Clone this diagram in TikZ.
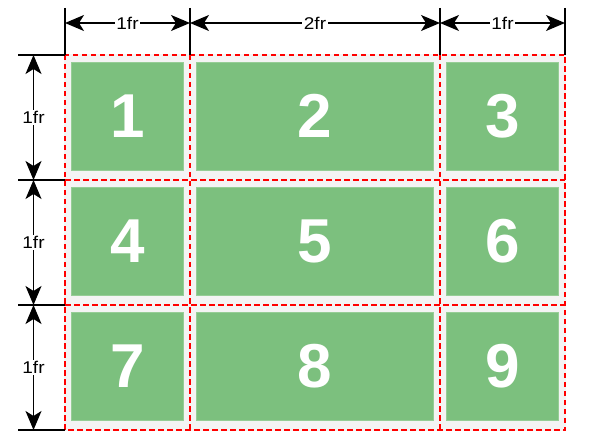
\documentclass[tikz,border=0pt]{standalone}
\usepackage{fontspec}
\setmainfont{Liberation Sans}
\newfontfamily\lblfont[FakeStretch=1.12]{Liberation Sans}
\usetikzlibrary{arrows.meta}
\definecolor{cellgreen}{RGB}{124,192,126}
\definecolor{celledge}{RGB}{150,205,150}
\definecolor{bggray}{RGB}{244,244,244}
\begin{document}
\begin{tikzpicture}[x=1pt,y=-1pt,
  cellbox/.style={rectangle, fill=cellgreen, draw=celledge, line width=0.6pt, inner sep=0pt,
    minimum height=108pt, text=white, font=\fontsize{62}{62}\selectfont\bfseries},
  gridline/.style={red, dash pattern=on 5.5pt off 3.5pt, line width=1.3pt},
  tick/.style={black, line width=1.3pt},
  dimarrow/.style={black, line width=1.3pt, {Stealth[length=19pt,width=16pt,inset=5pt]}-{Stealth[length=19pt,width=16pt,inset=5pt]}},
  lbl/.style={fill=white, inner sep=1.5pt, font=\lblfont\fontsize{17}{17}\selectfont}]
\useasboundingbox (0,0) rectangle (596,443);
\fill[bggray] (64,54) rectangle (566,431);
% cells
\node[cellbox, minimum width=112pt] (b1) at (127.5,116) {1};
\node[cellbox, minimum width=237pt] (b2) at (315,116) {2};
\node[cellbox, minimum width=112pt] (b3) at (502.5,116) {3};
\node[cellbox, minimum width=112pt] (b4) at (127.5,241) {4};
\node[cellbox, minimum width=237pt] (b5) at (315,241) {5};
\node[cellbox, minimum width=112pt] (b6) at (502.5,241) {6};
\node[cellbox, minimum width=112pt] (b7) at (127.5,366) {7};
\node[cellbox, minimum width=237pt] (b8) at (315,366) {8};
\node[cellbox, minimum width=112pt] (b9) at (502.5,366) {9};
% grid corners
\coordinate (g00) at (65,55);
\coordinate (g10) at (190,55);
\coordinate (g20) at (440,55);
\coordinate (g30) at (565,55);
\coordinate (g01) at (65,180);
\coordinate (g31) at (565,180);
\coordinate (g02) at (65,305);
\coordinate (g32) at (565,305);
\coordinate (g03) at (65,430);
\coordinate (g13) at (190,430);
\coordinate (g23) at (440,430);
\coordinate (g33) at (565,430);
\draw[gridline] (g00) rectangle (g33);
\draw[gridline] (g10) -- (g13);
\draw[gridline] (g20) -- (g23);
\draw[gridline] (g01) -- (g31);
\draw[gridline] (g02) -- (g32);
% top dimension ticks
\coordinate (t0) at (65,8);
\coordinate (t1) at (190,8);
\coordinate (t2) at (440,8);
\coordinate (t3) at (565,8);
\draw[tick] (t0) -- (g00);
\draw[tick] (t1) -- (g10);
\draw[tick] (t2) -- (g20);
\draw[tick] (t3) -- (g30);
\coordinate (a0) at (65,23);
\coordinate (a1) at (190,23);
\coordinate (a2) at (440,23);
\coordinate (a3) at (565,23);
\draw[dimarrow] (a0) -- node[lbl] (w1) {1fr} (a1);
\draw[dimarrow] (a1) -- node[lbl] (w2) {2fr} (a2);
\draw[dimarrow] (a2) -- node[lbl] (w3) {1fr} (a3);
% left dimension ticks
\coordinate (l0) at (18,55);
\coordinate (l1) at (18,180);
\coordinate (l2) at (18,305);
\coordinate (l3) at (18,430);
\draw[tick] (l0) -- (g00);
\draw[tick] (l1) -- (g01);
\draw[tick] (l2) -- (g02);
\draw[tick] (l3) -- (g03);
\coordinate (v0) at (33.5,55);
\coordinate (v1) at (33.5,180);
\coordinate (v2) at (33.5,305);
\coordinate (v3) at (33.5,430);
\draw[dimarrow] (v0) -- node[lbl] (h1) {1fr} (v1);
\draw[dimarrow] (v1) -- node[lbl] (h2) {1fr} (v2);
\draw[dimarrow] (v2) -- node[lbl] (h3) {1fr} (v3);
\end{tikzpicture}
\end{document}
